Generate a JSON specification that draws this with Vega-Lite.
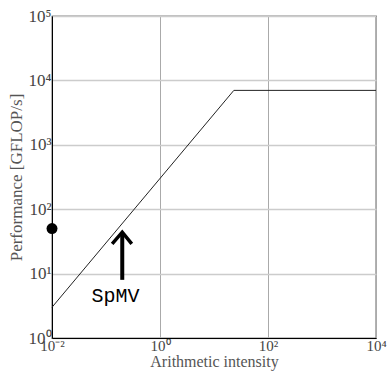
{
  "$schema": "https://vega.github.io/schema/vega-lite/v6.json",
  "width": 324,
  "height": 322,
  "autosize": "none",
  "padding": {"left": 52, "top": 16, "right": 12, "bottom": 33},
  "config": {"view": {"stroke": "black", "strokeWidth": 1.2}, "font": "Liberation Serif"},
  "datasets": {
    "roof": [{"ai": 0.01, "perf": 3}, {"ai": 23.3, "perf": 7000}, {"ai": 10000, "perf": 7000}],
    "pt": [{"ai": 0.01, "perf": 50}],
    "shaft": [{"ai": 0.2, "perf": 8, "hi": 42}],
    "head": [{"ai": 0.13, "perf": 29}, {"ai": 0.2, "perf": 44}, {"ai": 0.3, "perf": 29}],
    "lbl": [{"ai": 0.15, "perf": 4.5, "text": "SpMV"}]
  },
  "encoding": {
    "x": {
      "field": "ai", "type": "quantitative",
      "scale": {"type": "log", "domain": [0.01, 10000], "nice": false},
      "axis": {
        "values": [0.01, 1, 100, 10000],
        "labelExpr": "datum.value < 0.1 ? '10⁻²' : datum.value < 10 ? '10⁰' : datum.value < 1000 ? '10²' : '10⁴'",
        "grid": true, "gridColor": "#aaa", "ticks": false, "domainColor": "black",
        "labelFont": "Liberation Serif", "labelFontSize": 15, "labelColor": "#444", "labelPadding": 0,
        "labelFlush": false, "labelOverlap": false, "labelBound": false,
        "title": "Arithmetic intensity", "titleFont": "Liberation Serif", "titleFontWeight": "normal", "titleColor": "#555",
        "titleFontSize": 16, "titlePadding": 0
      }
    },
    "y": {
      "field": "perf", "type": "quantitative",
      "scale": {"type": "log", "domain": [1, 100000], "nice": false},
      "axis": {
        "values": [1, 10, 100, 1000, 10000, 100000],
        "labelExpr": "['10⁰','10¹','10²','10³','10⁴','10⁵'][round(log(datum.value)/LN10)]",
        "grid": true, "gridColor": "#ccc", "gridWidth": 1.3, "ticks": false, "domainColor": "black",
        "labelFont": "Liberation Serif", "labelFontSize": 17, "labelColor": "#444", "labelPadding": 1,
        "labelFlush": false, "labelOverlap": false, "labelBound": false,
        "title": "Performance [GFLOP/s]", "titleFont": "Liberation Serif", "titleFontWeight": "normal", "titleColor": "#555",
        "titleFontSize": 17, "titlePadding": 3
      }
    }
  },
  "layer": [
    {"data": {"name": "roof"}, "mark": {"type": "line", "color": "#222", "strokeWidth": 1}},
    {"data": {"name": "pt"}, "mark": {"type": "point", "filled": true, "color": "black", "size": 120, "opacity": 1, "clip": false}},
    {"data": {"name": "shaft"}, "mark": {"type": "rule", "color": "black", "strokeWidth": 4}, "encoding": {"y2": {"field": "hi"}}},
    {"data": {"name": "head"}, "mark": {"type": "line", "color": "black", "strokeWidth": 3.5, "strokeJoin": "miter", "strokeCap": "butt"}},
    {"data": {"name": "lbl"}, "mark": {"type": "text", "font": "Liberation Mono", "fontSize": 20, "color": "black", "baseline": "middle", "align": "center"}, "encoding": {"text": {"field": "text"}}}
  ]
}
